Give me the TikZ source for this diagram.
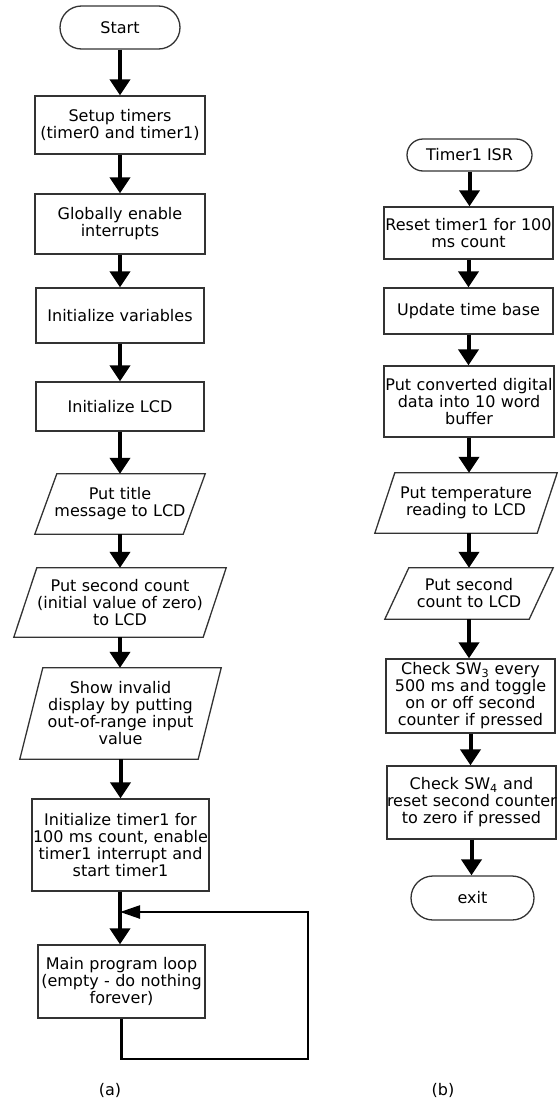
\documentclass[tikz,border=0pt]{standalone}
\usepackage{fontspec}
\setmainfont{DejaVu Sans}
\usetikzlibrary{arrows.meta,shapes.misc}
\newcommand\paradraw[2]{\draw[paraline] ([xshift=#2pt]#1.north west) -- ([xshift=#2pt]#1.north east) -- ([xshift=-#2pt]#1.south east) -- ([xshift=-#2pt]#1.south west) -- cycle;}
\begin{document}
\begin{tikzpicture}[x=1pt,y=-1pt,
  every node/.style={font=\fontsize{16}{17}\selectfont},
  box/.style={draw=black!80, line width=1.3pt, align=center, inner xsep=0pt, inner ysep=0pt},
  term/.style={draw=black!80, line width=1.3pt, rounded rectangle, align=center, inner sep=0pt},
  para/.style={align=center, inner xsep=0pt, inner ysep=0pt},
  paraline/.style={draw=black!80, line width=1.3pt, line join=miter},
  arr/.style={line width=4pt, -{Triangle[width=20pt,length=16pt]}},
  loopline/.style={line width=2.4pt, line join=miter, -{Triangle[width=13pt,length=20pt]}},
]
\useasboundingbox (0,0) rectangle (558,1100);

% (a)
\node[term, minimum width=120pt, minimum height=43pt] (start) at (120,27.5) {Start};
\node[box, text width=170pt, minimum height=58pt] (setup) at (120,125) {Setup timers\\(timer0 and timer1)};
\node[box, text width=170pt, minimum height=60pt] (glob) at (120,224) {Globally enable\\interrupts};
\node[box, text width=168pt, minimum height=55pt] (vars) at (120,315.5) {Initialize variables};
\node[box, text width=168pt, minimum height=49pt] (lcd) at (120,406.5) {Initialize LCD};
\node[para, text width=148pt, minimum height=60pt] (title) at (120,504) {Put title\\message to LCD};
\paradraw{title}{11}
\node[para, text width=189pt, minimum height=69pt] (cnt) at (120,602.5) {Put second count\\(initial value of zero)\\to LCD};
\paradraw{cnt}{11.5}
\node[para, text width=178pt, minimum height=91pt] (inv) at (120.5,713.5) {Show invalid\\display by putting\\out-of-range input\\value};
\paradraw{inv}{11.5}
\node[box, text width=177pt, minimum height=92pt] (tone) at (120.5,845) {Initialize timer1 for\\100 ms count, enable\\timer1 interrupt and\\start timer1};
\node[box, text width=167pt, minimum height=73pt] (mainloop) at (121.5,981.5) {Main program loop\\\mbox{(empty - do nothing}\\forever)};
\coordinate (merge) at (120,912);
\coordinate (lcorner) at (308,1059);

\draw[arr] (start.south) -- (start.south |- setup.north);
\draw[arr] (setup.south) -- (setup.south |- glob.north);
\draw[arr] (glob.south) -- (glob.south |- vars.north);
\draw[arr] (vars.south) -- (vars.south |- lcd.north);
\draw[arr] (lcd.south) -- (lcd.south |- title.north);
\draw[arr] (title.south) -- (title.south |- cnt.north);
\draw[arr] (cnt.south) -- (cnt.south |- inv.north);
\draw[arr] (inv.south) -- (inv.south |- tone.north);
\draw[arr] (merge |- tone.south) -- (merge |- mainloop.north);
\draw[loopline] (mainloop.south) |- (lcorner) |- (merge);

% (b)
\node[term, minimum width=125pt, minimum height=32pt] (isr) at (469.5,155) {Timer1 ISR};
\node[box, text width=169pt, minimum height=52pt] (reset) at (468.5,233) {\mbox{Reset timer1 for 100}\\ms count};
\node[box, text width=169pt, minimum height=46pt] (upd) at (468.5,311) {Update time base};
\node[box, text width=170pt, minimum height=71pt] (conv) at (469,401.5) {\mbox{Put converted digital}\\data into 10 word\\buffer};
\node[para, text width=162pt, minimum height=60pt] (temp) at (466,503) {Put temperature\\reading to LCD};
\paradraw{temp}{10}
\node[para, text width=144pt, minimum height=51pt] (cnttwo) at (469,593.5) {Put second\\count to LCD};
\paradraw{cnttwo}{12}
\node[box, text width=169pt, minimum height=74pt] (swthree) at (470.5,696) {Check SW\textsubscript{3} every\\500 ms and toggle\\on or off second\\counter if pressed};
\node[box, text width=169pt, minimum height=73pt] (swfour) at (471.5,802.5) {Check SW\textsubscript{4} and\\\mbox{reset second counter}\\to zero if pressed};
\node[term, minimum width=123pt, minimum height=44pt] (exit) at (472.5,898) {exit};

\draw[arr] (isr.south) -- (isr.south |- reset.north);
\draw[arr] (reset.south) -- (reset.south |- upd.north);
\draw[arr] (upd.south) -- (upd.south |- conv.north);
\draw[arr] (conv.south) -- (conv.south |- temp.north);
\draw[arr] (cnttwo.north |- temp.south) -- (cnttwo.north);
\draw[arr] (cnttwo.south) -- (cnttwo.south |- swthree.north);
\draw[arr] (swthree.south) -- (swthree.south |- swfour.north);
\draw[arr] (swfour.south) -- (swfour.south |- exit.north);

\node (capa) at (110,1090) {(a)};
\node (capb) at (443,1090) {(b)};
\end{tikzpicture}
\end{document}
